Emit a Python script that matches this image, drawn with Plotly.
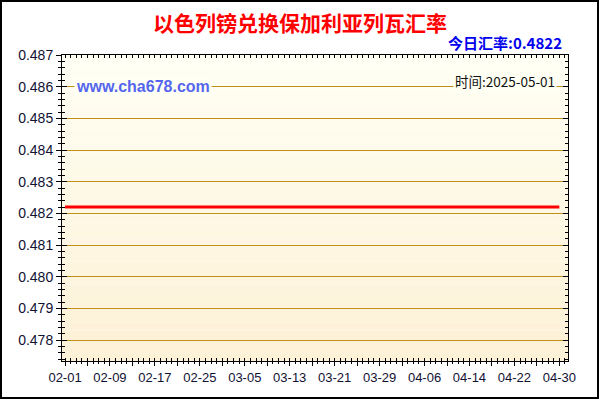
import pandas as pd
import plotly.graph_objects as go

# daily ILS -> BGN rate, 2025-02-01 .. 2025-05-01 (flat line in the picture)
dates = pd.date_range("2025-02-01", "2025-05-01", freq="D")
rates = [
    0.4822, 0.4822, 0.4822, 0.4822, 0.4822, 0.4822, 0.4822, 0.4822, 0.4822, 0.4822,
    0.4822, 0.4822, 0.4822, 0.4822, 0.4822, 0.4822, 0.4822, 0.4822, 0.4822, 0.4822,
    0.4822, 0.4822, 0.4822, 0.4822, 0.4822, 0.4822, 0.4822, 0.4822, 0.4822, 0.4822,
    0.4822, 0.4822, 0.4822, 0.4822, 0.4822, 0.4822, 0.4822, 0.4822, 0.4822, 0.4822,
    0.4822, 0.4822, 0.4822, 0.4822, 0.4822, 0.4822, 0.4822, 0.4822, 0.4822, 0.4822,
    0.4822, 0.4822, 0.4822, 0.4822, 0.4822, 0.4822, 0.4822, 0.4822, 0.4822, 0.4822,
    0.4822, 0.4822, 0.4822, 0.4822, 0.4822, 0.4822, 0.4822, 0.4822, 0.4822, 0.4822,
    0.4822, 0.4822, 0.4822, 0.4822, 0.4822, 0.4822, 0.4822, 0.4822, 0.4822, 0.4822,
    0.4822, 0.4822, 0.4822, 0.4822, 0.4822, 0.4822, 0.4822, 0.4822, 0.4822,
]
title = "以色列镑兑换保加利亚列瓦汇率"
today_rate = "今日汇率:0.4822"
site = "www.cha678.com"
stamp = "时间:2025-05-01"

# x ticks every 4 days, labels every 8 days
tick_dates = dates[:-1][::4]
tick_text = [d.strftime("%m-%d") if i % 2 == 0 else "" for i, d in enumerate(tick_dates)]

W, H = 600, 400
ml, mr, mt, mb = 62, 32, 55, 39
pw, ph = W - ml - mr, H - mt - mb
xr = [pd.Timestamp("2025-01-31 11:00"), pd.Timestamp("2025-05-01 13:00")]
yr = [0.47734, 0.487]
grid = "#BF8F1A"
tickfont = dict(family="Liberation Sans, Arial", size=13, color="#111133")


def px(x):
    return (x - ml) / pw


def py(y):
    return (H - mb - y) / ph


fig = go.Figure()
fig.add_trace(go.Scatter(x=dates, y=rates, mode="lines",
                         line=dict(color="#FF0000", width=3), hoverinfo="x+y"))
# invisible trace so the overlay axes get drawn
fig.add_trace(go.Scatter(x=dates[:1], y=rates[:1], xaxis="x2", yaxis="y2",
                         mode="markers", marker=dict(opacity=0), hoverinfo="skip"))

# vertical gradient background for the plot area
n = 40
top, bot = (255, 255, 244), (253, 241, 214)
shapes = []
for i in range(n):
    t = i / (n - 1)
    c = tuple(round(top[k] + (bot[k] - top[k]) * t) for k in range(3))
    shapes.append(dict(type="rect", xref="paper", yref="paper", layer="below",
                       x0=0, x1=1, y0=1 - (i + 1) / n, y1=1 - i / n,
                       fillcolor="rgb(%d,%d,%d)" % c, line=dict(width=0)))
# outer black frame of the image
shapes.append(dict(type="rect", xref="paper", yref="paper", layer="above",
                   x0=px(1), x1=px(598), y0=py(398), y1=py(1),
                   line=dict(color="black", width=2)))

fig.update_layout(
    width=W, height=H, margin=dict(l=ml, r=mr, t=mt, b=mb),
    paper_bgcolor="white", plot_bgcolor="rgba(0,0,0,0)",
    showlegend=False, shapes=shapes,
    xaxis=dict(type="date", range=xr, tickmode="array", tickvals=tick_dates, ticktext=tick_text,
               ticks="outside", ticklen=4, tickcolor="black", tickwidth=1,
               minor=dict(dtick=86400000, tick0="2025-02-01", ticks="outside", ticklen=2,
                          tickcolor="black", showgrid=False),
               showgrid=False, showline=True, linecolor="black", linewidth=1, mirror=True,
               tickfont=tickfont, zeroline=False),
    xaxis2=dict(type="date", overlaying="x", range=xr, tickmode="array", tickvals=tick_dates,
                ticktext=["" for _ in tick_dates], ticks="inside", ticklen=4, tickcolor="black",
                minor=dict(dtick=86400000, tick0="2025-02-01", ticks="inside", ticklen=3,
                           tickcolor="black", showgrid=False),
                showgrid=False, showline=False, mirror="ticks", showticklabels=False),
    yaxis=dict(range=yr, dtick=0.001, tick0=0.478, tickformat=".3f",
               ticks="outside", ticklen=5, tickcolor="black",
               minor=dict(dtick=0.0002, ticks="outside", ticklen=3, tickcolor="black", showgrid=False),
               showgrid=True, gridcolor=grid, gridwidth=1,
               showline=True, linecolor="black", linewidth=1, mirror=True,
               tickfont=dict(family="Liberation Sans, Arial", size=14, color="#111133"),
               zeroline=False),
    yaxis2=dict(overlaying="y", range=yr, dtick=0.001, tick0=0.478,
                ticks="inside", ticklen=5, tickcolor="black",
                minor=dict(dtick=0.0002, ticks="inside", ticklen=3, tickcolor="black", showgrid=False),
                showgrid=False, showline=False, mirror="ticks", showticklabels=False, zeroline=False),
)

fig.add_annotation(text="<b>%s</b>" % title, xref="paper", yref="paper",
                   x=px(300), y=py(22), xanchor="center", yanchor="middle", showarrow=False,
                   font=dict(family="Noto Sans CJK SC", size=21, color="#FF0000"))
fig.add_annotation(text="<b>%s</b>" % today_rate, xref="paper", yref="paper",
                   x=px(564), y=py(43), xanchor="right", yanchor="middle", showarrow=False,
                   font=dict(family="Noto Sans CJK SC, Liberation Sans", size=15, color="#0000EE"))
fig.add_annotation(text="<b>%s</b>" % site, xref="paper", yref="y",
                   x=px(74), y=0.486, xanchor="left", yanchor="middle", showarrow=False,
                   bgcolor="#FFFFF3", borderpad=1,
                   font=dict(family="Liberation Sans, Arial", size=16, color="#5566EE"))
fig.add_annotation(text=stamp, xref="paper", yref="y",
                   x=px(557), y=0.48617, xanchor="right", yanchor="middle", showarrow=False,
                   bgcolor="#FFFFF3", borderpad=1,
                   font=dict(family="Noto Sans CJK SC, Liberation Sans", size=13.5, color="#111111"))

fig.write_html("out.html", config={"displayModeBar": False},
               post_script="document.body.style.margin='0';")
